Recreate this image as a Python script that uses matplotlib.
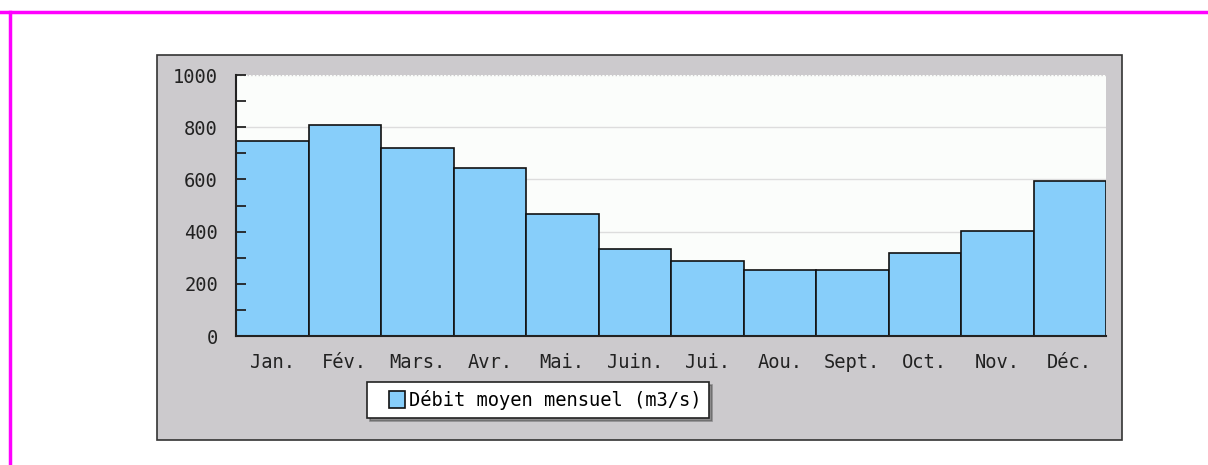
import matplotlib
matplotlib.use("Agg")
import matplotlib.pyplot as plt
from matplotlib.patches import Rectangle
from matplotlib.lines import Line2D
from matplotlib.container import BarContainer
from matplotlib.legend_handler import HandlerPatch, update_from_first_child

months = ['Jan.', 'Fév.', 'Mars.', 'Avr.', 'Mai.', 'Juin.', 'Jui.', 'Aou.',
          'Sept.', 'Oct.', 'Nov.', 'Déc.']
debit = [747, 808, 720, 644, 467, 333, 287, 253, 253, 318, 402, 594]
yticks = [0, 200, 400, 600, 800, 1000]

W, H = 1208, 465
FS = 13.5
MONO = 'DejaVu Sans Mono'

fig = plt.figure(figsize=(W / 100, H / 100), dpi=100)
fig.patch.set_facecolor('white')

# magenta frame lines
fig.add_artist(Line2D([0, 1], [1 - 12 / H, 1 - 12 / H], color='#ff00ff', lw=2.5))
fig.add_artist(Line2D([10 / W, 10 / W], [0, 1 - 12 / H], color='#ff00ff', lw=2.5))

# gray panel (behind the axes)
fig.add_artist(Rectangle((157 / W, 1 - 440 / H), (1122 - 157) / W, (440 - 55) / H,
                         facecolor='#cccacd', edgecolor='#333333', lw=1.2, zorder=-5))

ax = fig.add_axes([236 / W, 1 - 336 / H, (1106 - 236) / W, (336 - 75) / H])
ax.set_facecolor('#fbfdfb')
x = list(range(len(months)))
ax.bar(x, debit, width=1.0, color='#87cefa', edgecolor='#111111', linewidth=1.2,
       zorder=2, label='Débit moyen mensuel (m3/s)')
ax.set_axisbelow(False)
ax.set_xlim(-0.5, len(months) - 0.5)
ax.set_ylim(0, 1000)
ax.set_yticks(yticks)
ax.set_yticks(range(100, 1000, 200), minor=True)
ax.set_xticks(x)
ax.set_xticklabels(months, family=MONO, fontsize=FS)
ax.set_yticklabels([str(v) for v in yticks], family=MONO, fontsize=FS)
ax.tick_params(axis='y', which='both', direction='in', length=7, width=1.3,
               colors='#222222', pad=13)
ax.tick_params(axis='x', length=0, pad=12, colors='#222222')
for v in yticks[1:-1]:
    ax.axhline(v, color='#dddddd', lw=1, zorder=1)
ax.axhline(1000, color='#cccccc', lw=1, ls=':', zorder=1)
for s in ['top', 'right']:
    ax.spines[s].set_visible(False)
for s in ['left', 'bottom']:
    ax.spines[s].set_linewidth(1.5)
    ax.spines[s].set_color('#222222')


def square_patch(legend, orig_handle, xdescent, ydescent, width, height, fontsize):
    # square swatch pushed to the right of the handle area
    return Rectangle((-xdescent + width - height, -ydescent), height, height)


leg = ax.legend(loc='upper left', bbox_to_anchor=(367 / W, 1 - 382 / H),
                bbox_transform=fig.transFigure, prop={'family': MONO, 'size': FS},
                fancybox=False, shadow=True, framealpha=1, edgecolor='#222222',
                handlelength=1.6, handleheight=0.95, handletextpad=0.2,
                borderpad=0.42, borderaxespad=0,
                handler_map={BarContainer: HandlerPatch(patch_func=square_patch,
                                                        update_func=update_from_first_child)})
leg.get_frame().set_linewidth(1.2)

fig.savefig('out.png', dpi=100)
